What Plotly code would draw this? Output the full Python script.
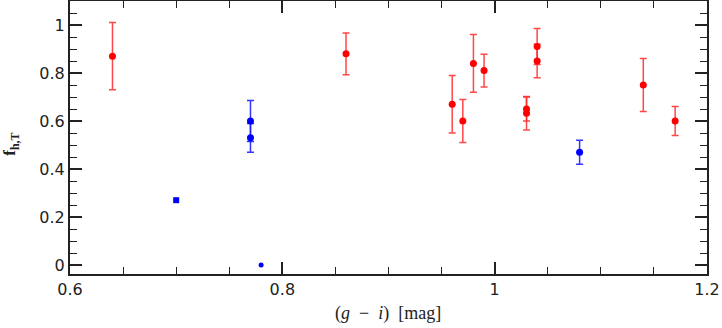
import plotly.graph_objects as go

# red sample (with errors)
red_x = [0.64, 0.86, 0.96, 0.97, 0.98, 0.99, 1.03, 1.03, 1.04, 1.04, 1.14, 1.17]
red_y = [0.87, 0.88, 0.67, 0.60, 0.84, 0.81, 0.65, 0.632, 0.91, 0.85, 0.75, 0.60]
red_err = [0.14, 0.087, 0.12, 0.09, 0.12, 0.068, 0.05, 0.07, 0.075, 0.07, 0.11, 0.06]

# blue sample (with errors)
blue_x = [0.77, 0.77, 1.08]
blue_y = [0.60, 0.53, 0.47]
blue_err = [0.085, 0.06, 0.05]

# blue, no errors
sq_x = [0.70]
sq_y = [0.27]
dot_x = [0.78]
dot_y = [0.0]

xtick_vals = [0.6, 0.8, 1.0, 1.2]
xtick_text = ["0.6", "0.8", "1", "1.2"]
ytick_vals = [0, 0.2, 0.4, 0.6, 0.8, 1.0]
ytick_text = ["0", "0.2", "0.4", "0.6", "0.8", "1"]

RED = "#ff0000"
BLUE = "#0000ff"

fig = go.Figure()
fig.add_trace(go.Scatter(
    x=red_x, y=red_y, mode="markers",
    marker=dict(color=RED, size=7),
    error_y=dict(type="data", array=red_err, color="rgba(255,40,40,0.85)",
                 thickness=1.5, width=3.5)))
fig.add_trace(go.Scatter(
    x=blue_x, y=blue_y, mode="markers",
    marker=dict(color=BLUE, size=7),
    error_y=dict(type="data", array=blue_err, color="rgba(30,30,255,0.9)",
                 thickness=1.5, width=3.5)))
fig.add_trace(go.Scatter(x=sq_x, y=sq_y, mode="markers",
                         marker=dict(color=BLUE, size=6, symbol="square")))
fig.add_trace(go.Scatter(x=dot_x, y=dot_y, mode="markers",
                         marker=dict(color=BLUE, size=5)))

axis_common = dict(showline=True, linecolor="#222", linewidth=2, mirror="allticks",
                   ticks="inside", ticklen=12, tickwidth=1.5, tickcolor="#222",
                   showgrid=False, zeroline=False, automargin=False,
                   tickfont=dict(family="DejaVu Sans", size=16, color="#222"),
                   minor=dict(ticks="inside", ticklen=7, tickwidth=1.3,
                              tickcolor="#222", dtick=0.05, showgrid=False))

fig.update_xaxes(range=[0.6, 1.2], tickvals=xtick_vals, ticktext=xtick_text,
                 **axis_common)
fig.update_yaxes(range=[-0.0375, 1.1], tickvals=ytick_vals, ticktext=ytick_text,
                 **axis_common)

fig.add_annotation(text="(<i>g</i>  −  <i>i</i>)  [mag]", xref="paper", yref="paper",
                   x=0.499, y=-0.143, xanchor="center", yanchor="middle", showarrow=False,
                   font=dict(family="Liberation Serif", size=18, color="#222"))
fig.add_annotation(text="<b>f</b><sub><b>h,T</b></sub>", xref="paper", yref="paper",
                   x=-0.092, y=0.475, xanchor="center", yanchor="middle", showarrow=False,
                   textangle=-90,
                   font=dict(family="Liberation Serif", size=17, color="#222"))

fig.update_layout(width=722, height=328, showlegend=False,
                  plot_bgcolor="white", paper_bgcolor="white",
                  margin=dict(l=70, r=15, t=1, b=54))

# drop the browser's default 8px body margin so the figure sits at the page corner
fig.write_html("out.html", config={"displayModeBar": False},
               post_script="document.body.style.margin='0';")
